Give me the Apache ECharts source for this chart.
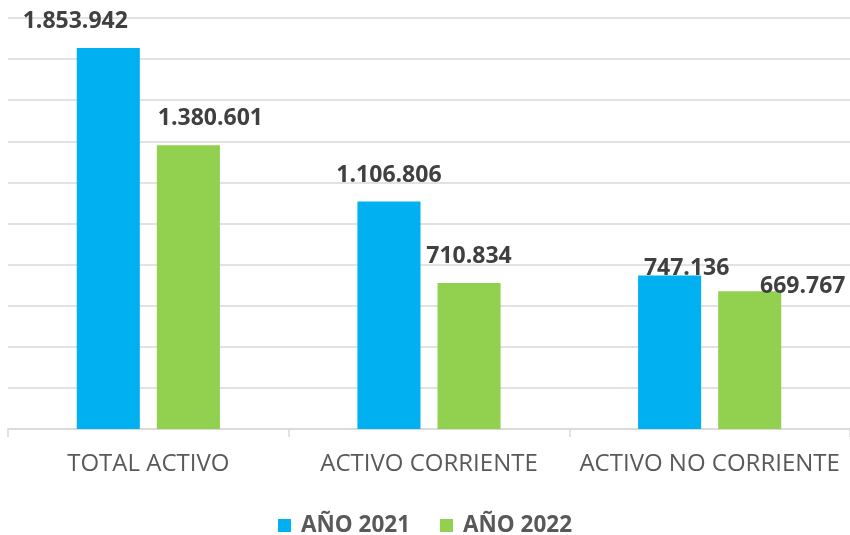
<!DOCTYPE html>
<html>
<head>
<meta charset="utf-8">
<script src="https://cdn.jsdelivr.net/npm/echarts@6/dist/echarts.min.js"></script>
<style>html,body{margin:0;padding:0;background:#fff}#c{width:850px;height:535px}</style>
</head>
<body>
<div id="c"></div>
<script>
const categories = ['TOTAL ACTIVO', 'ACTIVO CORRIENTE', 'ACTIVO NO CORRIENTE'];
const seriesNames = ['AÑO 2021', 'AÑO 2022'];
const values2021 = [1853942, 1106806, 747136];
const values2022 = [1380601, 710834, 669767];

const colors = ['#00B0F0', '#92D050'];
const labelOffsets = [
  [[-33, -10], [0, -10], [17, 9]],
  [[22, -10], [0, -10], [53, 12]]
];
function fmt(v) {
  return String(v).replace(/\B(?=(\d{3})+(?!\d))/g, '.');
}
const allValues = [values2021, values2022];
const chart = echarts.init(document.getElementById('c'), null, {renderer: 'canvas'});
chart.setOption({
  animation: false,
  backgroundColor: '#fff',
  grid: {left: 8, right: 0, top: 18, bottom: 106, containLabel: false},
  legend: {
    data: seriesNames,
    left: 'center',
    top: 509,
    itemWidth: 13,
    itemHeight: 13,
    itemGap: 30,
    icon: 'rect',
    textStyle: {fontFamily: 'Open Sans', fontWeight: 'bold', fontSize: 22.5, color: '#595959', padding: [0, 0, 0, 5]}
  },
  xAxis: {
    type: 'category',
    data: categories,
    axisLine: {lineStyle: {color: '#d9d9d9', width: 1.5}},
    axisTick: {show: true, length: 8, lineStyle: {color: '#d9d9d9', width: 1.5}},
    axisLabel: {interval: 0, margin: 23, fontFamily: 'Open Sans', fontSize: 24, color: '#595959', hideOverlap: false}
  },
  yAxis: {
    type: 'value',
    min: 0,
    max: 2000000,
    interval: 200000,
    axisLabel: {show: false},
    axisLine: {show: false},
    axisTick: {show: false},
    splitLine: {lineStyle: {color: '#d9d9d9', width: 1.5}}
  },
  series: seriesNames.map((name, s) => ({
    name: name,
    type: 'bar',
    barGap: '27%',
    barCategoryGap: '49%',
    itemStyle: {color: colors[s]},
    data: allValues[s].map((v, i) => ({
      value: v,
      label: {offset: labelOffsets[s][i]}
    })),
    label: {
      show: true,
      position: 'top',
      distance: 5,
      fontFamily: 'Open Sans',
      fontWeight: 'bold',
      fontSize: 23,
      color: '#404040',
      formatter: p => fmt(p.value)
    }
  }))
});
</script>
</body>
</html>
